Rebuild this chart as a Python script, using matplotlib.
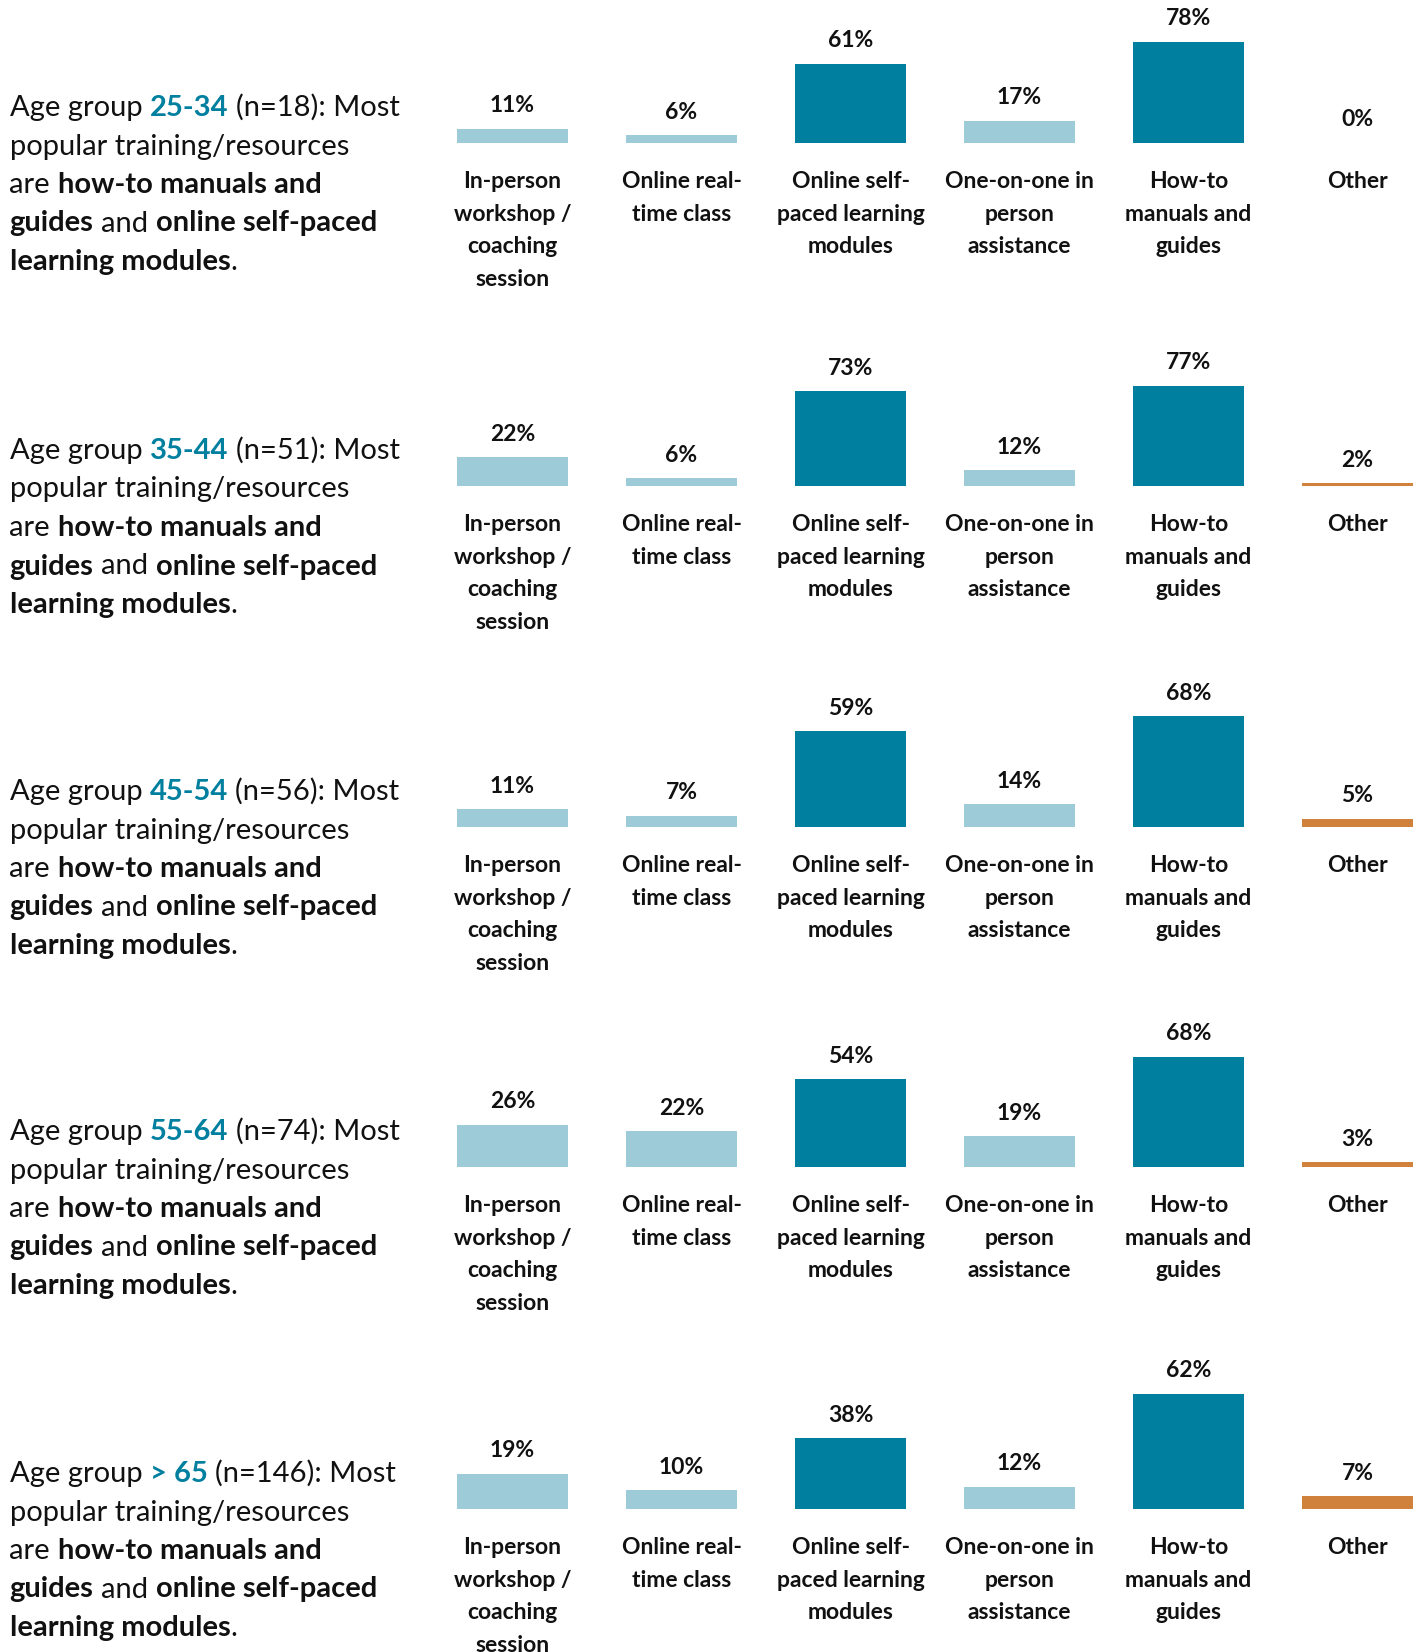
import matplotlib
matplotlib.use("Agg")
import matplotlib.pyplot as plt

plt.rcParams['font.family'] = ['Lato', 'DejaVu Sans']

# data
categories = ["In-person\nworkshop /\ncoaching\nsession",
              "Online real-\ntime class",
              "Online self-\npaced learning\nmodules",
              "One-on-one in\nperson\nassistance",
              "How-to\nmanuals and\nguides",
              "Other"]
age_groups = ["25-34", "35-44", "45-54", "55-64", "> 65"]
sample_sizes = [18, 51, 56, 74, 146]
pct_25_34 = [11, 6, 61, 17, 78, 0]
pct_35_44 = [22, 6, 73, 12, 77, 2]
pct_45_54 = [11, 7, 59, 14, 68, 5]
pct_55_64 = [26, 22, 54, 19, 68, 3]
pct_65_plus = [19, 10, 38, 12, 62, 7]
all_pct = [pct_25_34, pct_35_44, pct_45_54, pct_55_64, pct_65_plus]
axis_max = [100, 100, 80, 80, 70]

DARK = "#007f9f"
LIGHT = "#9ecbd8"
ORANGE = "#d0813b"
TXT = "#111111"
bar_colors = [LIGHT, LIGHT, DARK, LIGHT, DARK, ORANGE]

W, H = 1419, 1652
fig = plt.figure(figsize=(W / 100, H / 100), dpi=100)
renderer = fig.canvas.get_renderer()

baselines = [143, 486, 827, 1167, 1509]   # px from top
ax_h = 130
ax_left, ax_right = 428, 1419
unit = 169

left_fs = 21
lab_fs = 16.5


def text_width(s, weight):
    t = fig.text(0, 0, s, fontsize=left_fs, fontweight=weight)
    w = t.get_window_extent(renderer).width
    t.remove()
    return w


space_w = {wt: text_width("x x", wt) - text_width("xx", wt) for wt in ("normal", "bold")}


def rich_line(x_px, y_px, pieces):
    x = x_px
    for s, weight, color in pieces:
        lead = len(s) - len(s.lstrip(" "))
        trail = len(s) - len(s.rstrip(" "))
        x += lead * space_w[weight]
        core = s.strip(" ")
        if core:
            t = fig.text(x / W, 1 - y_px / H, core, fontsize=left_fs,
                         fontweight=weight, color=color, va="baseline", ha="left")
            x += t.get_window_extent(renderer).width
        x += trail * space_w[weight]


for k, (grp, n, pct) in enumerate(zip(age_groups, sample_sizes, all_pct)):
    base = baselines[k]
    ax = fig.add_axes([ax_left / W, 1 - base / H, (ax_right - ax_left) / W, ax_h / H])
    x = list(range(len(categories)))
    ax.bar(x, pct, width=0.66, color=bar_colors)
    ax.set_xlim(-0.5, -0.5 + (ax_right - ax_left) / unit)
    ax.set_ylim(0, axis_max[k])
    ax.axis("off")
    for i, v in enumerate(pct):
        ax.annotate(f"{v}%", xy=(i, v), xytext=(0, 16.5), textcoords="offset pixels",
                    ha="center", va="baseline", fontsize=lab_fs, fontweight="bold",
                    color=TXT, annotation_clip=False)
        ax.annotate(categories[i], xy=(i, 0), xytext=(0, -28), textcoords="offset pixels",
                    ha="center", va="top", multialignment="center",
                    fontsize=lab_fs, fontweight="bold", color=TXT, linespacing=1.68,
                    annotation_clip=False)

    lines = [
        [("Age group ", "normal", TXT), (grp, "bold", DARK), (f" (n={n}): Most", "normal", TXT)],
        [("popular training/resources", "normal", TXT)],
        [("are ", "normal", TXT), ("how-to manuals and", "bold", TXT)],
        [("guides", "bold", TXT), (" and ", "normal", TXT), ("online self-paced", "bold", TXT)],
        [("learning modules", "bold", TXT), (".", "normal", TXT)],
    ]
    for j, pieces in enumerate(lines):
        rich_line(9.5, base - 27 + 38.5 * j, pieces)

fig.savefig("out.png", dpi=100)
